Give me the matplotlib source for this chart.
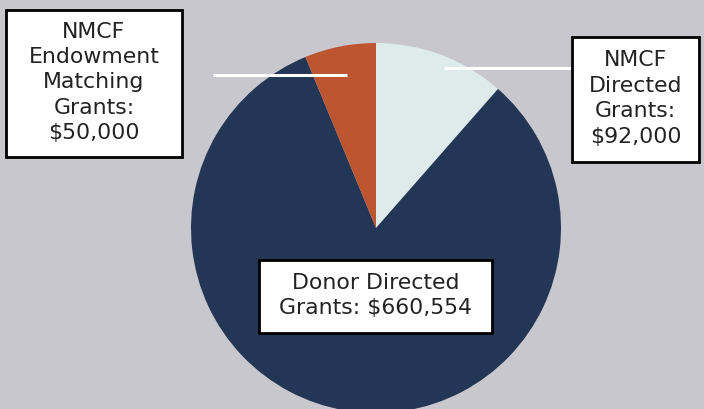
import matplotlib
matplotlib.use("Agg")
import matplotlib.pyplot as plt
from matplotlib.patches import Rectangle

categories = ["NMCF Directed Grants", "Donor Directed Grants", "NMCF Endowment Matching Grants"]
values = [92000, 660554, 50000]
colors = ["#DDECEA", "#233655", "#BC5530"]
labels = ["NMCF\nDirected\nGrants:\n$92,000",
          "Donor Directed\nGrants: $660,554",
          "NMCF\nEndowment\nMatching\nGrants:\n$50,000"]

W, H = 704, 409
fig = plt.figure(figsize=(W / 100, H / 100), dpi=100)
fig.patch.set_facecolor("#C8C7CD")
ax = fig.add_axes([0, 0, 1, 1])

cx, cy, r = 376, H - 228, 185
ax.pie(values, colors=colors, startangle=90, counterclock=False,
       center=(cx, cy), radius=r, frame=True,
       wedgeprops=dict(linewidth=0))
ax.set_xlim(0, W)
ax.set_ylim(0, H)
ax.set_aspect("equal")
ax.axis("off")

font = ["DejaVu Sans"]

# leader lines
ax.plot([213, 347], [H - 74.5, H - 74.5], color="white", lw=2.2, solid_capstyle="butt", zorder=3)
ax.plot([444, 572], [H - 68, H - 68], color="white", lw=2.2, solid_capstyle="butt", zorder=3)

boxes = [
    (572, 37, 699, 162, labels[0]),
    (259, 260, 492, 333, labels[1]),
    (6, 10, 182, 157, labels[2]),
]
for x0, y0, x1, y1, txt in boxes:
    ax.add_patch(Rectangle((x0, H - y1), x1 - x0, y1 - y0, facecolor="white",
                           edgecolor="black", lw=2, zorder=4))
    ax.text((x0 + x1) / 2, H - (y0 + y1) / 2 + 1, txt, ha="center", va="center",
            fontsize=15.8, family=font, color="#222222", linespacing=1.34, zorder=5)

fig.savefig("out.png", dpi=100, facecolor=fig.get_facecolor())
